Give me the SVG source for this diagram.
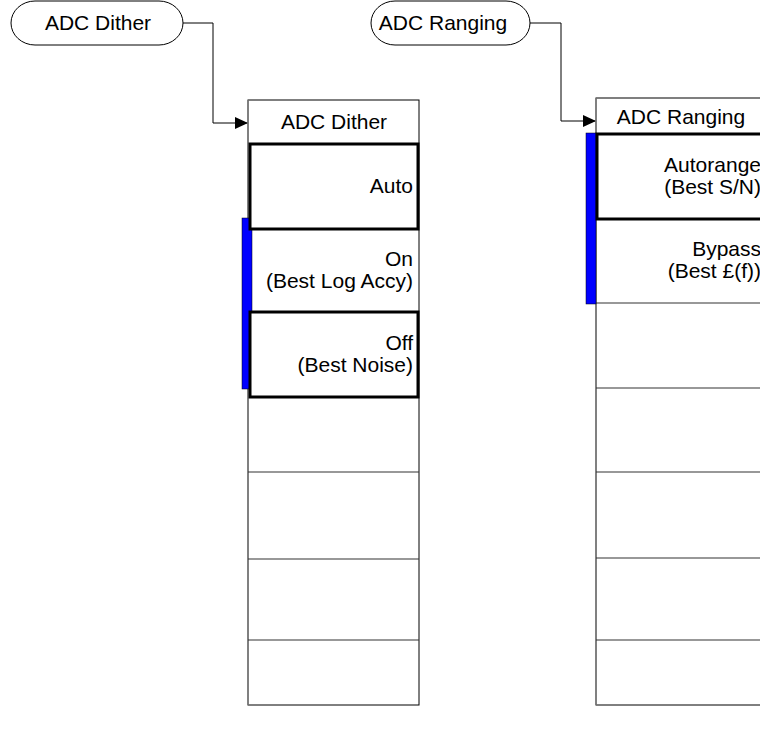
<svg xmlns="http://www.w3.org/2000/svg" width="760" height="730" viewBox="0 0 760 730">
<style>
.pill{fill:#fff;stroke:#000;stroke-width:1}
.t{font-family:"Liberation Sans",Arial,sans-serif;font-size:21px;fill:#000}
.c{text-anchor:middle}
.r{text-anchor:end}
.frame{fill:#fff;stroke:#000;stroke-width:1}
.sep{stroke:#333;stroke-width:1.2;fill:none}
.left{stroke:#808080;stroke-width:1.5;fill:none}
.sel{fill:#fff;stroke:#000;stroke-width:3}
.bar{fill:#0000ff;stroke:#000;stroke-width:0.5}
.conn{fill:none;stroke:#000;stroke-width:1}
</style>
<defs>
<marker id="arr" viewBox="0 0 13 12" refX="13" refY="6" markerWidth="13" markerHeight="12" markerUnits="userSpaceOnUse" orient="auto">
<path d="M0,0 L13,6 L0,12 Z" fill="#000"/>
</marker>
</defs>
<g id="connectors">
<path class="conn" d="M183,23 H213 V123 H248" marker-end="url(#arr)"/>
<path class="conn" d="M530,23 H561 V121 H596" marker-end="url(#arr)"/>
</g>
<g id="pill-adc-dither">
<rect class="pill" x="11" y="1" width="172" height="44" rx="24" ry="22"/>
<text class="t c" x="98" y="30">ADC Dither</text>
</g>
<g id="pill-adc-ranging">
<rect class="pill" x="371" y="1" width="159" height="44" rx="24" ry="22"/>
<text class="t c" x="443" y="30">ADC Ranging</text>
</g>
<g id="menu-adc-dither">
<rect class="frame" x="248" y="100" width="171" height="605"/>
<path class="left" d="M248,100 V705"/>
<path class="sep" d="M248,472 H419 M248,559 H419 M248,640 H419"/>
<text class="t c" x="334" y="129">ADC Dither</text>
<rect class="bar" x="242" y="218" width="10" height="171"/>
<rect class="sel" x="250" y="144" width="168" height="85"/>
<text class="t r" x="413" y="193">Auto</text>
<text class="t r" x="413" y="266">On</text>
<text class="t r" x="413" y="288">(Best Log Accy)</text>
<rect class="sel" x="250" y="312" width="168" height="85"/>
<text class="t r" x="413" y="350">Off</text>
<text class="t r" x="413" y="372">(Best Noise)</text>
</g>
<g id="menu-adc-ranging">
<rect class="frame" x="596" y="98" width="171" height="607"/>
<path class="left" d="M596,98 V705"/>
<path class="sep" d="M596,303 H767 M596,388 H767 M596,472 H767 M596,558 H767 M596,640 H767"/>
<text class="t c" x="681" y="124">ADC Ranging</text>
<rect class="bar" x="586" y="133" width="10" height="171"/>
<rect class="sel" x="597" y="134" width="170" height="85"/>
<text class="t r" x="761" y="172">Autorange</text>
<text class="t r" x="761" y="194">(Best S/N)</text>
<text class="t r" x="761" y="256">Bypass</text>
<text class="t r" x="761" y="278">(Best £(f))</text>
</g>
</svg>
